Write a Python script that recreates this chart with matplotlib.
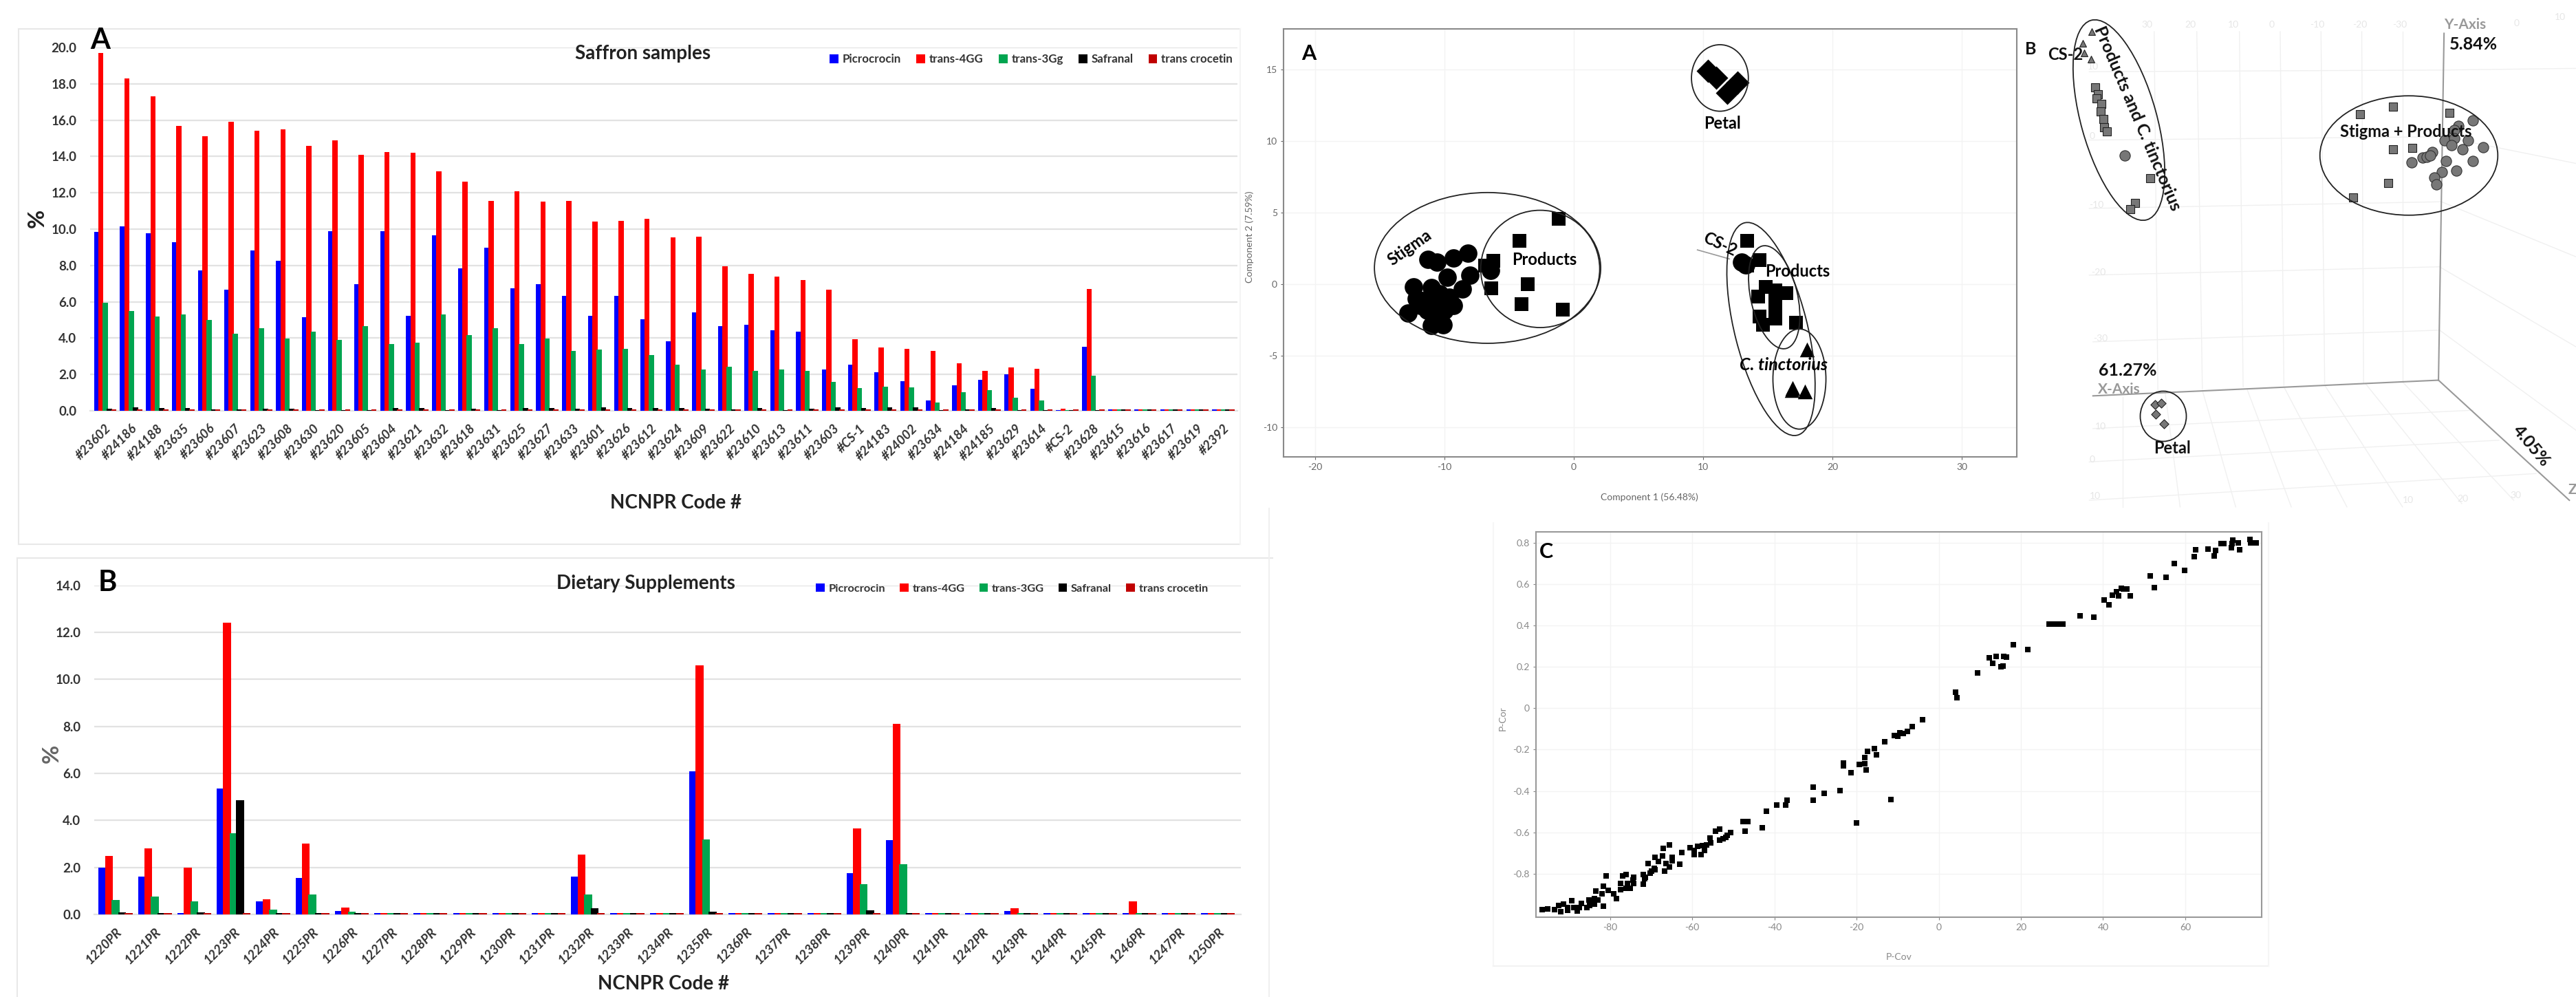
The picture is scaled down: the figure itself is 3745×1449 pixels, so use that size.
import numpy as np
import matplotlib
matplotlib.use('Agg')
from matplotlib import pyplot as plt
from matplotlib.patches import Ellipse
from matplotlib.lines import Line2D

plt.rcParams['font.family'] = ['Lato', 'DejaVu Sans']
plt.rcParams['axes.unicode_minus'] = False

W, H = 3745, 1449

# saffron samples (panel A bars)
saffron_codes = ['#23602', '#24186', '#24188', '#23635', '#23606', '#23607', '#23623', '#23608', '#23630', '#23620',
                 '#23605', '#23604', '#23621', '#23632', '#23618', '#23631', '#23625', '#23627', '#23633', '#23601',
                 '#23626', '#23612', '#23624', '#23609', '#23622', '#23610', '#23613', '#23611', '#23603', '#CS-1',
                 '#24183', '#24002', '#23634', '#24184', '#24185', '#23629', '#23614', '#CS-2', '#23628', '#23615',
                 '#23616', '#23617', '#23619', '#2392']
saf_picro = [9.85, 10.15, 9.76, 9.28, 7.71, 6.67, 8.81, 8.25, 5.16, 9.87, 6.96, 9.89, 5.22, 9.66, 7.83, 8.99, 6.76,
             6.96, 6.34, 5.22, 6.32, 5.04, 3.81, 5.41, 4.66, 4.73, 4.44, 4.35, 2.26, 2.55, 2.13, 1.62, 0.58, 1.39,
             1.72, 1.99, 1.22, 0.05, 3.54, 0.06, 0.06, 0.06, 0.06, 0.06]
saf_4gg = [19.7, 18.3, 17.3, 15.7, 15.1, 15.9, 15.4, 15.5, 14.6, 14.9, 14.1, 14.25, 14.2, 13.2, 12.6, 11.55, 12.1,
           11.5, 11.55, 10.4, 10.45, 10.55, 9.55, 9.6, 7.95, 7.55, 7.4, 7.2, 6.65, 3.95, 3.5, 3.4, 3.3, 2.6, 2.2,
           2.4, 2.3, 0.1, 6.7, 0.06, 0.06, 0.06, 0.06, 0.08]
saf_3gg = [5.93, 5.49, 5.18, 5.29, 5.0, 4.25, 4.56, 3.98, 4.37, 3.92, 4.66, 3.67, 3.75, 5.31, 4.15, 4.56, 3.67, 3.98,
           3.29, 3.36, 3.42, 3.07, 2.55, 2.26, 2.43, 2.18, 2.26, 2.2, 1.58, 1.24, 1.31, 1.28, 0.46, 1.02, 1.12, 0.71,
           0.56, 0.05, 1.95, 0.06, 0.06, 0.06, 0.06, 0.08]
saf_safranal = [0.12, 0.18, 0.15, 0.15, 0.08, 0.07, 0.13, 0.13, 0.05, 0.05, 0.05, 0.15, 0.17, 0.05, 0.13, 0.05, 0.15,
                0.15, 0.1, 0.2, 0.15, 0.15, 0.15, 0.13, 0.08, 0.17, 0.05, 0.13, 0.2, 0.17, 0.2, 0.2, 0.03, 0.07, 0.15,
                0.05, 0.03, 0.05, 0.05, 0.06, 0.06, 0.06, 0.06, 0.06]
saf_crocetin = [0.06] * 44

# dietary supplements (panel B bars)
diet_codes = ['1220PR', '1221PR', '1222PR', '1223PR', '1224PR', '1225PR', '1226PR', '1227PR', '1228PR', '1229PR',
              '1230PR', '1231PR', '1232PR', '1233PR', '1234PR', '1235PR', '1236PR', '1237PR', '1238PR', '1239PR',
              '1240PR', '1241PR', '1242PR', '1243PR', '1244PR', '1245PR', '1246PR', '1247PR', '1250PR']
diet_picro = [2.0, 1.6, 0.05, 5.35, 0.55, 1.55, 0.15, 0.05, 0.05, 0.05, 0.05, 0.05, 1.6, 0.05, 0.05, 6.1, 0.05, 0.05,
              0.05, 1.75, 3.15, 0.05, 0.05, 0.15, 0.05, 0.05, 0.05, 0.05, 0.05]
diet_4gg = [2.5, 2.8, 2.0, 12.4, 0.65, 3.0, 0.3, 0.05, 0.05, 0.05, 0.05, 0.05, 2.55, 0.05, 0.05, 10.6, 0.05, 0.05,
            0.05, 3.65, 8.1, 0.05, 0.05, 0.25, 0.05, 0.05, 0.55, 0.05, 0.05]
diet_3gg = [0.6, 0.75, 0.55, 3.45, 0.2, 0.85, 0.12, 0.05, 0.05, 0.05, 0.05, 0.05, 0.85, 0.05, 0.05, 3.2, 0.05, 0.05,
            0.05, 1.3, 2.15, 0.05, 0.05, 0.06, 0.05, 0.05, 0.06, 0.05, 0.05]
diet_safranal = [0.08, 0.05, 0.1, 4.85, 0.05, 0.07, 0.05, 0.05, 0.05, 0.05, 0.05, 0.05, 0.25, 0.05, 0.05, 0.12, 0.05,
                 0.05, 0.05, 0.18, 0.07, 0.05, 0.05, 0.05, 0.05, 0.05, 0.05, 0.05, 0.05]
diet_crocetin = [0.05] * 29

bar_names = ['Picrocrocin', 'trans-4GG', 'trans-3Gg', 'Safranal', 'trans crocetin']
bar_names_diet = ['Picrocrocin', 'trans-4GG', 'trans-3GG', 'Safranal', 'trans crocetin']
bar_colors = ['#0000FF', '#FF0000', '#00A550', '#000000', '#C00000']

# PCA scores (component 1, component 2)
stigma_x = [-11.3, -10.6, -9.3, -8.2, -9.8, -8.05, -8.6, -12.4, -11.0, -12.8, -11.0, -10.1, -9.3, -11.7, -10.7, -10.0,
            -11.35, -12.2, -10.35, -9.65, -10.85, -11.85, -6.45]
stigma_y = [1.7, 1.5, 1.8, 2.15, 0.45, 0.6, -0.35, -0.2, -0.25, -2.05, -2.9, -2.85, -1.5, -1.15, -1.15, -1.85, -1.85,
            -1.05, -0.7, -0.95, -2.2, -1.5, 0.95]
cs2_x = [13.0, 13.3]
cs2_y = [1.5, 1.35]
products_x = [-1.15, -4.2, -6.25, -6.85, -6.4, -3.55, -4.05, -0.85, 13.4, 14.35, 13.4, 14.85, 15.6, 16.45, 14.25, 15.6,
              15.6, 14.35, 15.6, 14.65, 17.2]
products_y = [4.55, 3.0, 1.6, 1.3, -0.3, 0.0, -1.4, -1.8, 3.0, 1.65, 1.3, -0.2, -0.45, -0.65, -0.9, -1.3, -1.75, -2.3,
              -2.4, -2.85, -2.7]
tinct_x = [18.05, 16.9, 17.9, 16.85]
tinct_y = [-4.6, -7.3, -7.5, -7.4]
petal_x = [10.35, 11.0, 12.65, 11.85]
petal_y = [14.9, 14.4, 14.1, 13.35]

# 3D score plot, positions as seen on the projected picture
b3_tri_x = [262, 238, 241, 260]
b3_tri_y = [95, 130, 158, 178]
b3_sq_x = [271, 278, 275, 287, 286, 293, 295, 302, 420, 378, 366, 985, 1074, 1226, 1075, 1126, 1061, 967]
b3_sq_y = [261, 282, 295, 312, 335, 357, 382, 395, 534, 608, 628, 343, 319, 339, 447, 443, 549, 593]
b3_circ_x = [351, 1290, 1250, 1240, 1277, 1213, 1240, 1232, 1262, 1318, 1290, 1217, 1245, 1207, 1186, 1192, 1124, 1155,
             1165, 1180, 1175]
b3_circ_y = [466, 362, 378, 390, 420, 420, 415, 435, 448, 442, 483, 483, 512, 515, 532, 552, 486, 472, 470, 455, 467]
b3_dia_x = [433, 449, 434, 456]
b3_dia_y = [1213, 1208, 1243, 1270]

# S-plot (P-Cov, P-Cor)
splot_x = [34.4, 37.8, 40.2, 41.4, 42.2, 43.3, 43.7, 44.5, 44.9, 45.8, 46.6, 51.5, 52.4, 55.4, 57.4, 59.9, 62.2, 62.6,
           65.5, 67.1, 67.3, 68.7, 69.4, 71.3, 71.5, 71.4, 72.9, 73.3, 75.8, 76.0, 77.3,
           26.8, 27.3, 27.8, 28.3, 28.8, 29.3, 29.8, 30.2,
           21.6, 18.2, 16.4, 15.8, 15.7, 15.1, 13.9, 13.2, 12.3, 9.4, 4.5, 4.1, -4.0, -6.5, -7.6, -8.7, -9.4, -9.9,
           -10.8, -13.1, -15.6, -15.1, -17.4, -18.0, -18.0, -17.6, -19.4, -21.4, -23.2, -23.2, -24.1, -11.7, -20.0,
           -27.9, -30.5, -30.5, -37.0, -37.3, -39.5, -41.9, -43.0, -46.4, -47.7, -47.1,
           -50.6, -51.5, -51.9, -53.4, -54.3, -53.4, -52.5, -55.7, -55.5, -56.6, -57.5, -58.7, -60.5, -59.5, -59.5,
           -57.8, -57.1, -62.5, -63.0, -65.6, -67.0, -64.9, -64.9, -67.2, -69.0, -68.3, -66.4, -65.5, -66.7, -69.3,
           -70.7, -70.2, -72.0,
           -80.9, -77.0, -76.1, -74.2, -71.4, -72.0, -74.2, -75.1, -76.1, -77.5, -78.4, -79.2, -80.5, -81.6, -83.4,
           -82.0, -81.6, -83.8, -85.2, -87.0, -89.3, -91.4, -92.6, -95.2, -96.6, -93.6, -92.0, -90.3, -88.0, -88.9,
           -85.7, -83.8, -90.3, -87.5, -85.0, -82.9, -77.5, -75.7, -74.4, -69.9, -69.0, -71.6]
splot_y = [0.445, 0.44, 0.523, 0.5, 0.546, 0.562, 0.543, 0.581, 0.575, 0.577, 0.543, 0.639, 0.582, 0.632, 0.699, 0.667,
           0.733, 0.765, 0.768, 0.737, 0.762, 0.796, 0.797, 0.777, 0.813, 0.796, 0.799, 0.765, 0.815, 0.799, 0.799,
           0.405, 0.405, 0.405, 0.405, 0.405, 0.405, 0.405, 0.405,
           0.283, 0.307, 0.248, 0.251, 0.204, 0.201, 0.251, 0.216, 0.245, 0.172, 0.051, 0.077, -0.055, -0.088, -0.111,
           -0.123, -0.12, -0.136, -0.131, -0.161, -0.197, -0.226, -0.209, -0.238, -0.267, -0.299, -0.272, -0.311,
           -0.266, -0.28, -0.399, -0.442, -0.555, -0.412, -0.38, -0.445, -0.445, -0.467, -0.467, -0.499, -0.577,
           -0.547, -0.547, -0.594,
           -0.601, -0.613, -0.625, -0.584, -0.596, -0.639, -0.63, -0.628, -0.65, -0.66, -0.664, -0.669, -0.674, -0.686,
           -0.708, -0.708, -0.686, -0.696, -0.755, -0.66, -0.679, -0.72, -0.737, -0.715, -0.72, -0.742, -0.752, -0.766,
           -0.788, -0.774, -0.752, -0.796, -0.803,
           -0.809, -0.81, -0.803, -0.818, -0.818, -0.851, -0.847, -0.869, -0.869, -0.847, -0.92, -0.898, -0.879, -0.861,
           -0.883, -0.898, -0.956, -0.92, -0.927, -0.942, -0.931, -0.946, -0.952, -0.969, -0.975, -0.975, -0.985,
           -0.978, -0.981, -0.964, -0.964, -0.946, -0.964, -0.964, -0.952, -0.927, -0.876, -0.847, -0.832, -0.788,
           -0.781, -0.825]

fig = plt.figure(figsize=(W / 100, H / 100), dpi=100)


def axes_px(left, top, right, bottom):
    return fig.add_axes([left / W, 1 - bottom / H, (right - left) / W, (bottom - top) / H])


def text_px(x, y, s, size, **kw):
    kw.setdefault('weight', 'bold')
    kw.setdefault('ha', 'center')
    kw.setdefault('va', 'center')
    return fig.text(x / W, 1 - y / H, s, fontsize=size, **kw)


def line_px(x0, y0, x1, y1, color='#e8e8e8', lw=1.5):
    fig.add_artist(Line2D([x0 / W, x1 / W], [1 - y0 / H, 1 - y1 / H], color=color, lw=lw))


def bar_chart(ax, codes, series, names, ymax, step, width, xlim):
    x = np.arange(len(codes))
    for i, (vals, name, color) in enumerate(zip(series, names, bar_colors)):
        ax.bar(x + (i - 2) * step, vals, width, color=color, label=name, zorder=3 + i)
    ax.set_xlim(*xlim)
    ax.set_ylim(0, ymax)
    ax.set_yticks(np.arange(0, ymax + 1, 2))
    ax.set_yticklabels(['%.1f' % v for v in np.arange(0, ymax + 1, 2)], fontsize=13.5, weight='bold', color='#333333')
    ax.set_xticks(x)
    ax.set_xticklabels(codes, rotation=45, ha='right', rotation_mode='anchor', fontsize=13.5, weight='bold',
                       color='#333333', style='italic')
    ax.grid(axis='y', color='#e2e2e2', lw=1.6, zorder=0)
    ax.set_axisbelow(True)
    ax.tick_params(length=0)
    ax.tick_params(axis='x', pad=12)
    ax.tick_params(axis='y', pad=14)
    for s in ax.spines.values():
        s.set_visible(False)
    ax.spines['bottom'].set_visible(True)
    ax.spines['bottom'].set_color('#e2e2e2')
    ax.spines['bottom'].set_linewidth(1.6)
    ax.patch.set_alpha(0)


# outer frames
line_px(27, 42, 1803, 42)
line_px(27, 42, 27, 791)
line_px(27, 791, 1803, 791)
line_px(1803, 42, 1803, 791, color='#f4f4f4')
line_px(25, 811, 1850, 811)
line_px(25, 811, 25, 1449)
line_px(1845, 739, 1845, 1449, color='#f0f0f0')
line_px(2171, 760, 2171, 1404, color='#f6f6f6')
line_px(2171, 1404, 3298, 1404, color='#f2f2f2')
line_px(3298, 760, 3298, 1404, color='#f6f6f6')

# panel A bars
ax = axes_px(131, 69, 1799, 597)
bar_chart(ax, saffron_codes, [saf_picro, saf_4gg, saf_3gg, saf_safranal, saf_crocetin], bar_names, 20, 0.165, 0.2,
          (-0.58, 43.54))
leg = ax.legend(ncol=5, loc='center right', bbox_to_anchor=(1.0, 0.967), frameon=False, handlelength=0.75,
                handleheight=0.75, handletextpad=0.35, columnspacing=1.3, borderaxespad=0,
                prop={'size': 12.2, 'weight': 'bold'})
for t in leg.get_texts():
    t.set_color('#333333')
text_px(146, 59, 'A', 30)
text_px(935, 78, 'Saffron samples', 20, color='#222222')
text_px(983, 731, 'NCNPR Code #', 20, color='#222222')
text_px(54, 317, '%', 24, rotation=90, color='#222222')

# panel B bars
ax = axes_px(137, 850.5, 1804, 1329)
bar_chart(ax, diet_codes, [diet_picro, diet_4gg, diet_3gg, diet_safranal, diet_crocetin], bar_names_diet, 14, 0.165,
          0.2, (-0.54, 28.58))
leg = ax.legend(ncol=5, loc='center right', bbox_to_anchor=(0.975, 0.989), frameon=False, handlelength=0.75,
                handleheight=0.75, handletextpad=0.35, columnspacing=1.3, borderaxespad=0,
                prop={'size': 11.8, 'weight': 'bold'})
for t in leg.get_texts():
    t.set_color('#333333')
text_px(156, 847, 'B', 30)
text_px(939, 848, 'Dietary Supplements', 20, color='#222222')
text_px(965, 1430, 'NCNPR Code #', 20, color='#222222')
text_px(75, 1095, '%', 24, rotation=90, color='#666666')

# PCA score plot
ax = axes_px(1866, 42, 2932, 664)
ax.scatter(stigma_x, stigma_y, s=370, marker='o', color='k', linewidths=0, zorder=3)
ax.scatter(cs2_x, cs2_y, s=370, marker='o', color='k', linewidths=0, zorder=3)
ax.scatter(products_x, products_y, s=200, marker='s', color='k', linewidths=0, zorder=3)
ax.scatter(tinct_x, tinct_y, s=240, marker='^', color='k', linewidths=0, zorder=3)
ax.scatter(petal_x, petal_y, s=300, marker='D', color='k', linewidths=0, zorder=3)
for c, w_, h_, ang in [((-6.67, 1.12), 17.5, 10.54, 0), ((-2.6, 1.05), 9.2, 8.2, 0), ((11.3, 14.4), 4.4, 4.65, 0),
                       ((15.25, -3.15), 15.4, 5.6, 105.8), ((15.5, -0.93), 7.4, 3.6, 105),
                       ((17.45, -6.65), 4.1, 7.0, 0)]:
    ax.add_patch(Ellipse(c, w_, h_, angle=ang, fill=False, ec='#222222', lw=1.3, zorder=4))
ax.plot([9.56, 12.03], [2.38, 1.75], color='#999999', lw=1.2, zorder=2)
ax.text(-12.7, 2.55, 'Stigma', fontsize=17, weight='bold', rotation=35, ha='center', va='center', zorder=5)
ax.text(-2.27, 1.68, 'Products', fontsize=17, weight='bold', ha='center', va='center', zorder=5)
ax.text(11.5, 11.2, 'Petal', fontsize=17, weight='bold', ha='center', va='center', zorder=5)
ax.text(11.3, 2.75, 'CS-2', fontsize=17, weight='bold', rotation=-25, ha='center', va='center', zorder=5)
ax.text(17.3, 0.86, 'Products', fontsize=17, weight='bold', ha='center', va='center', zorder=5)
ax.text(16.2, -5.67, 'C. tinctorius', fontsize=18, weight='bold', style='italic', ha='center', va='center', zorder=5)
ax.text(-20.5, 16.1, 'A', fontsize=22, weight='bold', ha='center', va='center', zorder=5)
ax.set_xlim(-22.45, 34.26)
ax.set_ylim(-12.09, 17.83)
ax.set_xticks([-20, -10, 0, 10, 20, 30])
ax.set_yticks([-10, -5, 0, 5, 10, 15])
ax.grid(color='#f3f3f3', lw=1)
ax.set_axisbelow(True)
ax.tick_params(labelsize=10, colors='#666666', length=3, width=0.8)
for s in ax.spines.values():
    s.set_color('#8a8a8a')
    s.set_linewidth(1.5)
text_px(2398, 723, 'Component 1 (56.48%)', 10, weight='normal', color='#666666')
text_px(1817, 344, 'Component 2 (7.59%)', 10, weight='normal', color='#666666', rotation=90)

# 3D score plot, drawn flat on the projected picture
ax = axes_px(2900, 0, 3745, 760)
ax.set_xlim(0, 845)
ax.set_ylim(760, 0)
ax.axis('off')
sx = 845 / 1568
sy = 760 / 1568


def px3(xs, ys):
    return np.array(xs) * sx, np.array(ys) * sy


wall_lines = [(255, 215, 1210, 210), (255, 420, 1210, 410), (255, 625, 1205, 605), (255, 825, 1200, 800),
              (265, 1025, 1200, 990), (1210, 210, 1568, 205), (1210, 410, 1568, 490), (1205, 605, 1568, 770),
              (1200, 800, 1568, 1040), (1200, 990, 1568, 1290), (430, 95, 440, 1170), (545, 95, 560, 1165),
              (660, 95, 670, 1160), (770, 95, 780, 1155), (880, 95, 890, 1150), (990, 95, 995, 1148),
              (1100, 95, 1100, 1145), (255, 1385, 1360, 1320), (255, 1500, 1460, 1420), (265, 1285, 1290, 1230),
              (345, 1190, 345, 1520), (460, 1180, 500, 1520), (560, 1170, 650, 1520), (680, 1165, 800, 1520),
              (780, 1160, 950, 1520), (890, 1155, 1100, 1520), (1000, 1150, 1260, 1510), (1100, 1145, 1400, 1500)]
for x0, y0, x1, y1 in wall_lines:
    xs, ys = px3([x0, x1], [y0, y1])
    ax.plot(xs, ys, color='#f0f0f0', lw=1, zorder=1)
for x0, y0, x1, y1 in [(1212, 100, 1197, 1140), (1197, 1140, 265, 1187), (1197, 1140, 1550, 1500)]:
    xs, ys = px3([x0, x1], [y0, y1])
    ax.plot(xs, ys, color='#999999', lw=1.5, zorder=2)

faint = [(410, 75, '30'), (528, 75, '20'), (643, 75, '10'), (748, 75, '0'), (870, 75, '-10'), (985, 75, '-20'),
         (1093, 75, '-30'), (265, 200, '10'), (262, 408, '0'), (275, 615, '-10'), (280, 818, '-20'), (285, 1015, '-30'),
         (262, 1378, '0'), (270, 1487, '10'), (285, 1280, '10'), (1408, 70, '0'), (1525, 52, '10'), (1115, 1500, '10'),
         (1262, 1495, '20'), (1405, 1485, '30')]
for x0, y0, s in faint:
    ax.text(x0 * sx, y0 * sy, s, fontsize=10, color='#e6e6e6', ha='center', va='center', zorder=1)

xs, ys = px3(b3_tri_x, b3_tri_y)
ax.scatter(xs, ys, s=50, marker='^', color='#777777', edgecolors='#222222', linewidths=0.8, zorder=4)
xs, ys = px3(b3_sq_x, b3_sq_y)
ax.scatter(xs, ys, s=85, marker='s', color='#777777', edgecolors='#222222', linewidths=0.8, zorder=4)
xs, ys = px3(b3_circ_x, b3_circ_y)
ax.scatter(xs, ys, s=120, marker='o', color='#777777', edgecolors='#333333', linewidths=0.8, zorder=4)
xs, ys = px3(b3_dia_x, b3_dia_y)
ax.scatter(xs, ys, s=45, marker='D', color='#777777', edgecolors='#222222', linewidths=0.8, zorder=4)

ax.add_patch(Ellipse((180.5, 174.5), 301, 110, angle=74.4, fill=False, ec='#222222', lw=1.3, zorder=5))
ax.add_patch(Ellipse((602, 226), 258.6, 173.5, fill=False, ec='#222222', lw=1.3, zorder=5))
ax.add_patch(Ellipse((245, 605), 67, 73, fill=False, ec='#222222', lw=1.3, zorder=5))

labels3 = [(97, 148, 'B', 18, 0, '#111111'), (190, 163, 'CS-2', 17, 0, '#111111'),
           (385, 355, 'Products and C. tinctorius', 18, -67, '#111111'), (1268, 75, 'Y-Axis', 15, 0, '#999999'),
           (1292, 133, '5.84%', 18, 0, '#111111'), (1110, 395, 'Stigma + Products', 17, 0, '#111111'),
           (358, 1112, '61.27%', 18, 0, '#111111'), (335, 1168, 'X-Axis', 15, 0, '#999999'),
           (478, 1345, 'Petal', 17, 0, '#111111'), (1447, 1338, '4.05%', 18, -50, '#111111'),
           (1558, 1470, 'Z', 15, 0, '#999999')]
for x0, y0, s, size, rot, col in labels3:
    ax.text(x0 * sx, y0 * sy, s, fontsize=size, rotation=rot, color=col, weight='bold', ha='center', va='center',
            zorder=6)

# S-plot
ax = axes_px(2233, 773, 3288, 1333)
ax.scatter(splot_x, splot_y, s=30, marker='s', color='k', linewidths=0, zorder=3)
ax.set_xlim(-98.05, 78.6)
ax.set_ylim(-1.01, 0.852)
ax.set_xticks(np.arange(-80, 61, 20))
ax.set_yticks([-0.8, -0.6, -0.4, -0.2, 0, 0.2, 0.4, 0.6, 0.8])
ax.set_yticklabels(['-0.8', '-0.6', '-0.4', '-0.2', '0', '0.2', '0.4', '0.6', '0.8'])
ax.grid(color='#f3f3f3', lw=1)
ax.set_axisbelow(True)
ax.tick_params(labelsize=10, colors='#888888', length=3, width=0.8)
for s in ax.spines.values():
    s.set_color('#999999')
    s.set_linewidth(1.5)
ax.text(-95.5, 0.755, 'C', fontsize=22, weight='bold', ha='center', va='center', zorder=5)
text_px(2761, 1391, 'P-Cov', 10, weight='normal', color='#888888')
text_px(2185, 1044, 'P-Cor', 10, weight='normal', color='#888888', rotation=90)

fig.savefig('out.png', dpi=100)
